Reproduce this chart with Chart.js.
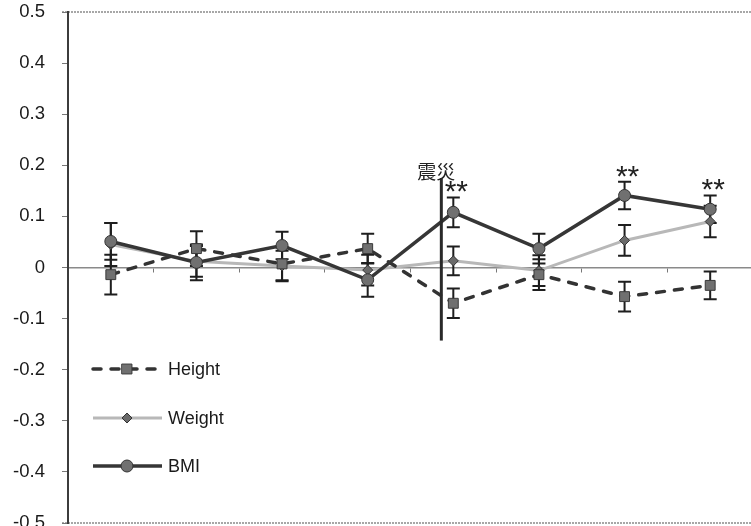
<!DOCTYPE html>
<html>
<head>
<meta charset="utf-8">
<script src="https://cdn.jsdelivr.net/npm/chart.js@4/dist/chart.umd.min.js"></script>
<style>
  html, body { margin: 0; padding: 0; background: #fff; overflow: hidden; }
  #wrap { width: 751px; height: 526px; overflow: hidden; }
</style>
</head>
<body>
<div id="wrap"><canvas id="c" width="761" height="531"></canvas></div>
<script>
// Survey periods (unlabelled on the axis)
const periods = ['1', '2', '3', '4', '5', '6', '7', '8'];

// Mean change per period and its error
const heightVals = [-0.014, 0.037, 0.007, 0.037, -0.070, -0.014, -0.057, -0.035];
const heightErr  = [0.039, 0.034, 0.032, 0.029, 0.029, 0.030, 0.029, 0.027];
const weightVals = [0.045, 0.012, 0.003, -0.005, 0.013, -0.006, 0.053, 0.090];
const weightErr  = [0.042, 0.030, 0.030, 0.030, 0.028, 0.030, 0.030, 0.031];
const bmiVals    = [0.051, 0.010, 0.043, -0.024, 0.108, 0.037, 0.141, 0.114];
const bmiErr     = [0.036, 0.035, 0.027, 0.033, 0.029, 0.029, 0.027, 0.027];

// Significance marks above the BMI error bars
const bmiSig = ['', '', '', '', '**', '', '**', '**'];

// Earthquake marker: position on the category axis and its vertical extent
const quakeLabel = '震災';
const quakeAt = 3.86;
const quakeRange = [0.175, -0.143];

// y axis ticks
const yMin = -0.5, yMax = 0.5, yStep = 0.1;

const FONT = '"Liberation Sans", Arial, sans-serif';

const errorBars = {
  id: 'errorBars',
  beforeDatasetsDraw(chart) {
    const ctx = chart.ctx, xs = chart.scales.x, ys = chart.scales.y;
    ctx.save();
    ctx.strokeStyle = '#1e1e1e';
    ctx.lineWidth = 2;
    chart.data.datasets.forEach(ds => {
      ds.values.forEach((v, i) => {
        const x = xs.getPixelForValue(i);
        const top = ys.getPixelForValue(v + ds.err[i]);
        const bot = ys.getPixelForValue(v - ds.err[i]);
        ctx.beginPath();
        ctx.moveTo(x, top); ctx.lineTo(x, bot);
        ctx.moveTo(x - 6.5, top); ctx.lineTo(x + 6.5, top);
        ctx.moveTo(x - 6.5, bot); ctx.lineTo(x + 6.5, bot);
        ctx.stroke();
      });
    });
    ctx.restore();
  }
};

const frame = {
  id: 'frame',
  beforeDraw(chart) {
    const ctx = chart.ctx, a = chart.chartArea, ys = chart.scales.y;
    ctx.save();
    ctx.strokeStyle = '#8a8a8a';
    ctx.lineWidth = 1.5;
    ctx.setLineDash([2, 1]);
    [yMax, yMin].forEach(v => {
      const y = ys.getPixelForValue(v);
      ctx.beginPath();
      ctx.moveTo(a.left - 6, y); ctx.lineTo(a.right, y);
      ctx.stroke();
    });
    ctx.restore();
  }
};

const annotations = {
  id: 'annotations',
  afterDatasetsDraw(chart) {
    const ctx = chart.ctx, xs = chart.scales.x, ys = chart.scales.y;
    ctx.save();
    // earthquake line
    const i0 = Math.floor(quakeAt), f = quakeAt - i0;
    const qx = xs.getPixelForValue(i0) * (1 - f) + xs.getPixelForValue(i0 + 1) * f;
    ctx.strokeStyle = '#2a2a2a';
    ctx.lineWidth = 3;
    ctx.beginPath();
    ctx.moveTo(qx, ys.getPixelForValue(quakeRange[0]));
    ctx.lineTo(qx, ys.getPixelForValue(quakeRange[1]));
    ctx.stroke();
    ctx.fillStyle = '#222';
    ctx.font = '19px "Noto Sans CJK JP", sans-serif';
    ctx.textAlign = 'center';
    ctx.textBaseline = 'bottom';
    ctx.fillText(quakeLabel, qx - 5, ys.getPixelForValue(quakeRange[0]) + 3);

    // significance marks
    ctx.font = '30px ' + FONT;
    ctx.textBaseline = 'alphabetic';
    bmiSig.forEach((s, i) => {
      if (!s) return;
      const x = xs.getPixelForValue(i) + 3;
      const y = ys.getPixelForValue(bmiVals[i] + bmiErr[i]);
      ctx.fillText(s, x, y + 4);
    });
    ctx.restore();
  },
  afterDraw(chart) {
    // legend inside the plot area, lower left
    const ctx = chart.ctx, a = chart.chartArea;
    const x0 = a.left + 25, x1 = a.left + 94, mx = a.left + 59;
    const rows = [369, 418, 466];
    chart.data.datasets.forEach((ds, k) => {
      const y = rows[k];
      ctx.save();
      ctx.strokeStyle = ds.borderColor;
      ctx.lineWidth = ds.borderWidth;
      ctx.lineCap = ds.borderCapStyle || 'butt';
      ctx.setLineDash(ds.borderDash || []);
      ctx.beginPath();
      ctx.moveTo(x0, y); ctx.lineTo(x1, y);
      ctx.stroke();
      ctx.setLineDash([]);
      ctx.fillStyle = ds.pointBackgroundColor;
      ctx.strokeStyle = ds.pointBorderColor;
      ctx.lineWidth = ds.pointBorderWidth;
      Chart.helpers.drawPoint(ctx, {
        pointStyle: ds.pointStyle,
        radius: ds.pointRadius,
        borderWidth: ds.pointBorderWidth
      }, mx, y);
      ctx.fillStyle = '#1a1a1a';
      ctx.font = '18px ' + FONT;
      ctx.textAlign = 'left';
      ctx.textBaseline = 'middle';
      ctx.fillText(ds.label, x1 + 6, y + 1);
      ctx.restore();
    });
  }
};

new Chart(document.getElementById('c'), {
  type: 'line',
  data: {
    labels: periods,
    datasets: [
      {
        label: 'Height',
        data: heightVals, values: heightVals, err: heightErr,
        borderColor: '#333333', borderWidth: 3.5,
        borderDash: [8, 10], borderCapStyle: 'round',
        pointStyle: 'rect', pointRadius: 7,
        pointBackgroundColor: '#707070', pointBorderColor: '#3a3a3a', pointBorderWidth: 1,
        order: 2
      },
      {
        label: 'Weight',
        data: weightVals, values: weightVals, err: weightErr,
        borderColor: '#b8b8b8', borderWidth: 3,
        pointStyle: 'rectRot', pointRadius: 5,
        pointBackgroundColor: '#6a6a6a', pointBorderColor: '#333333', pointBorderWidth: 1,
        order: 3
      },
      {
        label: 'BMI',
        data: bmiVals, values: bmiVals, err: bmiErr,
        borderColor: '#363636', borderWidth: 3.5,
        pointStyle: 'circle', pointRadius: 6,
        pointBackgroundColor: '#707070', pointBorderColor: '#333333', pointBorderWidth: 1,
        order: 1
      }
    ]
  },
  options: {
    responsive: false,
    animation: false,
    layout: { padding: { top: 12, right: 0, bottom: 0, left: 0 } },
    plugins: { legend: { display: false }, tooltip: { enabled: false } },
    elements: { line: { tension: 0 } },
    scales: {
      x: {
        type: 'category',
        offset: true,
        position: { y: 0 },
        afterFit(scale) { scale.height = 0; scale.paddingLeft = 0; scale.paddingRight = 0; },
        grid: { offset: true, drawOnChartArea: false, tickLength: 4, color: '#777', lineWidth: 1 },
        border: { color: '#8a8a8a', width: 1.5, dash: [2, 1] },
        ticks: { display: false }
      },
      y: {
        min: yMin, max: yMax,
        afterFit(scale) { scale.width = 68; scale.paddingTop = 0; scale.paddingBottom = 0; },
        grid: { drawOnChartArea: false, tickLength: 6, color: '#777', lineWidth: 1 },
        border: { color: '#3c3c3c', width: 2 },
        ticks: {
          stepSize: yStep,
          padding: 17,
          color: '#1a1a1a',
          font: { family: FONT, size: 18.5 },
          callback: v => String(Number(v.toFixed(1)))
        }
      }
    }
  },
  plugins: [frame, errorBars, annotations]
});
</script>
</body>
</html>
